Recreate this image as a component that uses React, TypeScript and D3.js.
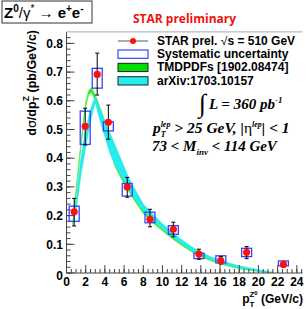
import React from 'react';
import * as d3 from 'd3';

// measured points (STAR prel.)
const ptX = [0.8, 1.95, 3.2, 4.36, 6.33, 8.7, 11.13, 13.8, 16.08, 18.77, 22.6];
const ptY = [0.213, 0.511, 0.692, 0.525, 0.3, 0.187, 0.152, 0.066, 0.043, 0.072, 0.03];
const statLo = [0.164, 0.446, 0.62, 0.466, 0.264, 0.161, 0.126, 0.048, 0.031, 0.05, 0.022];
const statHi = [0.26, 0.574, 0.766, 0.585, 0.333, 0.222, 0.177, 0.083, 0.057, 0.092, 0.039];
const sysLo = [0.18, 0.448, 0.644, 0.495, 0.268, 0.175, 0.135, 0.05, 0.035, 0.057, 0.025];
const sysHi = [0.233, 0.564, 0.713, 0.527, 0.312, 0.212, 0.165, 0.069, 0.06, 0.086, 0.042];

// arXiv:1703.10157 band
const cyanX = [0.75, 1, 1.5, 2, 2.5, 3, 3.5, 4, 4.5, 5, 5.5, 6, 6.5, 7, 7.5, 8, 9, 10, 11, 12, 13, 14, 15, 16, 17, 18, 19, 20, 21];
const cyanLo = [0.18, 0.22, 0.34, 0.44, 0.53, 0.595, 0.53, 0.475, 0.42, 0.38, 0.35, 0.32, 0.29, 0.265, 0.24, 0.215, 0.185, 0.155, 0.127, 0.102, 0.08, 0.062, 0.048, 0.036, 0.026, 0.018, 0.012, 0.006, 0.002];
const cyanHi = [0.2, 0.26, 0.4, 0.5, 0.57, 0.615, 0.57, 0.53, 0.49, 0.45, 0.41, 0.37, 0.33, 0.3, 0.27, 0.24, 0.205, 0.172, 0.143, 0.116, 0.092, 0.073, 0.057, 0.045, 0.034, 0.025, 0.018, 0.011, 0.006];

// TMDPDFs [1902.08474] band
const greenX = [0.65, 1, 1.5, 2, 2.3, 2.6, 3, 3.5, 4, 5, 6, 7, 8, 9, 10, 11, 12, 13, 14, 15, 16, 17, 18, 19, 20, 21, 21.5];
const greenLo = [0.165, 0.28, 0.44, 0.58, 0.62, 0.63, 0.6, 0.56, 0.515, 0.375, 0.31, 0.257, 0.207, 0.175, 0.147, 0.12, 0.096, 0.075, 0.057, 0.043, 0.032, 0.023, 0.015, 0.01, 0.006, 0.003, 0.002];
const greenHi = [0.175, 0.29, 0.455, 0.595, 0.635, 0.645, 0.62, 0.575, 0.53, 0.385, 0.32, 0.265, 0.215, 0.182, 0.153, 0.126, 0.101, 0.08, 0.061, 0.047, 0.035, 0.026, 0.018, 0.012, 0.007, 0.004, 0.003];

const xMajor = d3.range(0, 24.01, 2);
const xMinor = d3.range(0, 24.6, 0.5);
const yMajor = [0, 0.1, 0.2, 0.3, 0.4, 0.5, 0.6, 0.7, 0.8];
const yMinor = d3.range(0, 0.84, 0.02);

const legendLabels = ['Systematic uncertainty', 'TMDPDFs [1902.08474]', 'arXiv:1703.10157'];

const App = () => {
  const x = d3.scaleLinear().domain([0, 24.6]).range([66.5, 302.6]);
  const y = d3.scaleLinear().domain([0, 0.84]).range([273, 31.9]);

  const band = (xs: number[], lo: number[], hi: number[]) =>
    d3.area<number>()
      .x((d, i) => x(xs[i]))
      .y0((d, i) => y(lo[i]))
      .y1((d, i) => y(hi[i]))(xs) as string;

  const axisColor = '#444';
  const sans = 'Liberation Sans, Arial, sans-serif';
  const serif = 'Liberation Serif, Times New Roman, serif';
  const hw = 0.52;

  return (
    <svg width={307} height={309} style={{ position: 'absolute', left: 0, top: 0 }}>
      <rect width={307} height={309} fill="#fff" />

      {/* theory bands */}
      <path d={band(greenX, greenLo, greenHi)} fill="#22ee22" stroke="#55f055" strokeWidth={0.8} />
      <path d={band(cyanX, cyanLo, cyanHi)} fill="#22eeee" stroke="#33dddd" strokeWidth={0.6} />

      {/* axes */}
      <g stroke={axisColor} strokeWidth={1} fill="none">
        <line x1={x(0)} x2={x(24.6)} y1={y(0)} y2={y(0)} />
        <line x1={x(0)} x2={x(0)} y1={y(0)} y2={y(0.84)} />
        <line x1={x(0)} x2={x(24.6)} y1={y(0.84)} y2={y(0.84)} stroke="#aaa" />
        {xMinor.map((t, i) => <line key={'xm' + i} x1={x(t)} x2={x(t)} y1={y(0)} y2={y(0) - 4} />)}
        {xMajor.map((t, i) => <line key={'xM' + i} x1={x(t)} x2={x(t)} y1={y(0)} y2={y(0) - 8} />)}
        {yMinor.map((t, i) => <line key={'ym' + i} x1={x(0)} x2={x(0) + 4} y1={y(t)} y2={y(t)} />)}
        {yMajor.map((t, i) => <line key={'yM' + i} x1={x(0)} x2={x(0) + 8} y1={y(t)} y2={y(t)} />)}
      </g>
      <g fontFamily={sans} fontWeight="bold" fontSize={12} fill="#000">
        {xMajor.map((t, i) => <text key={'xl' + i} x={x(t)} y={286} textAnchor="middle">{t}</text>)}
        {yMajor.map((t, i) => <text key={'yl' + i} x={63} y={y(t) + (t === 0 ? 7 : 4.3)} textAnchor="end">{t === 0 ? '0' : t.toFixed(1)}</text>)}
      </g>

      {/* axis titles */}
      <text x={303} y={303} textAnchor="end" fontFamily={sans} fontWeight="bold" fontSize={12}>
        p<tspan fontSize={8} dy={3.5}>T</tspan><tspan fontSize={8} dx={-5} dy={-9.5}>Z</tspan><tspan fontSize={6} dy={-2}>0</tspan><tspan dy={8}> (GeV/c)</tspan>
      </text>
      <text transform="translate(36,30) rotate(-90)" textAnchor="end" fontFamily={sans} fontWeight="bold" fontSize={12.5}>
        d<tspan fontFamily="DejaVu Sans" fontWeight="normal">σ</tspan>/dp<tspan fontSize={8.5} dy={3}>T</tspan><tspan fontSize={8.5} dx={-5} dy={-10}>Z</tspan><tspan dy={7}> (pb/GeV/c)</tspan>
      </text>

      {/* data */}
      <g fill="none" stroke="#3344ff" strokeWidth={1.3}>
        {ptX.map((d, i) => (
          <rect key={'s' + i} x={x(d - hw)} y={y(sysHi[i])} width={x(d + hw) - x(d - hw)} height={y(sysLo[i]) - y(sysHi[i])} />
        ))}
      </g>
      <g stroke="#000" strokeWidth={1}>
        {ptX.map((d, i) => (
          <g key={'e' + i}>
            <line x1={x(d)} x2={x(d)} y1={y(statLo[i])} y2={y(statHi[i])} />
            <line x1={x(d) - 2} x2={x(d) + 2} y1={y(statLo[i])} y2={y(statLo[i])} />
            <line x1={x(d) - 2} x2={x(d) + 2} y1={y(statHi[i])} y2={y(statHi[i])} />
          </g>
        ))}
      </g>
      {ptX.map((d, i) => <circle key={'p' + i} cx={x(d)} cy={y(ptY[i])} r={3.6} fill="#ff1010" />)}

      {/* legend */}
      <line x1={118} x2={148} y1={41} y2={41} stroke="#555" strokeWidth={1} />
      <circle cx={133} cy={41} r={3} fill="#ff1010" />
      <rect x={118} y={50} width={30} height={8.3} fill="#fff" stroke="#3344ff" strokeWidth={1.2} />
      <rect x={118} y={63.3} width={30} height={8.3} fill="#00e000" stroke="#222" strokeWidth={1} />
      <rect x={118} y={76.7} width={30} height={8.3} fill="#22eeee" stroke="#222" strokeWidth={1} />
      <g fontFamily={sans} fontWeight="bold" fontSize={12} fill="#000">
        <text x={157} y={45}>STAR prel.  <tspan fontWeight="normal">√</tspan>s = 510 GeV</text>
        {legendLabels.map((l, i) => <text key={l} x={157} y={58 + i * 13.3}>{l}</text>)}
      </g>

      {/* header */}
      <rect x={2} y={1} width={90} height={22} fill="#fff" stroke="#333" strokeWidth={1} />
      <text x={4} y={18.3} fontFamily={sans} fontWeight="bold" fontSize={15}>
        Z<tspan fontSize={10} dy={-6}>0</tspan><tspan dy={6} fontWeight="normal">/γ</tspan><tspan fontSize={10} dy={-6} fontWeight="normal">*</tspan><tspan dy={6} fontWeight="normal"> → </tspan>e<tspan fontSize={10} dy={-6}>+</tspan><tspan dy={6}>e</tspan><tspan fontSize={10} dy={-6}>-</tspan>
      </text>
      <text x={133} y={23} fontFamily="Open Sans, sans-serif" fontWeight="bold" fontSize={13} fill="#ee1111" textLength={103} lengthAdjust="spacingAndGlyphs">STAR preliminary</text>

      {/* annotations */}
      <g fontFamily={serif} fontWeight="bold" fontStyle="italic" fill="#000">
        <text x={199} y={112} fontSize={26} fontStyle="normal" fontWeight="normal">∫</text>
        <text x={209} y={109} fontSize={15}>L = 360 pb<tspan fontSize={9} dy={-6}>-1</tspan></text>
        <text x={153} y={133} fontSize={15.5}>p<tspan fontSize={8} dy={4}>T</tspan><tspan fontSize={8} dx={-5} dy={-10}>lep</tspan><tspan dy={6}> &gt; 25 GeV, |</tspan><tspan fontStyle="normal" fontWeight="normal">η</tspan><tspan fontSize={8} dy={-6}>lep</tspan><tspan dy={6}>| &lt; 1</tspan></text>
        <text x={152} y={151} fontSize={15}>73 &lt; M<tspan fontSize={9} dy={4}>inv</tspan><tspan dy={-4}> &lt; 114 GeV</tspan></text>
      </g>
    </svg>
  );
};

export default App;
